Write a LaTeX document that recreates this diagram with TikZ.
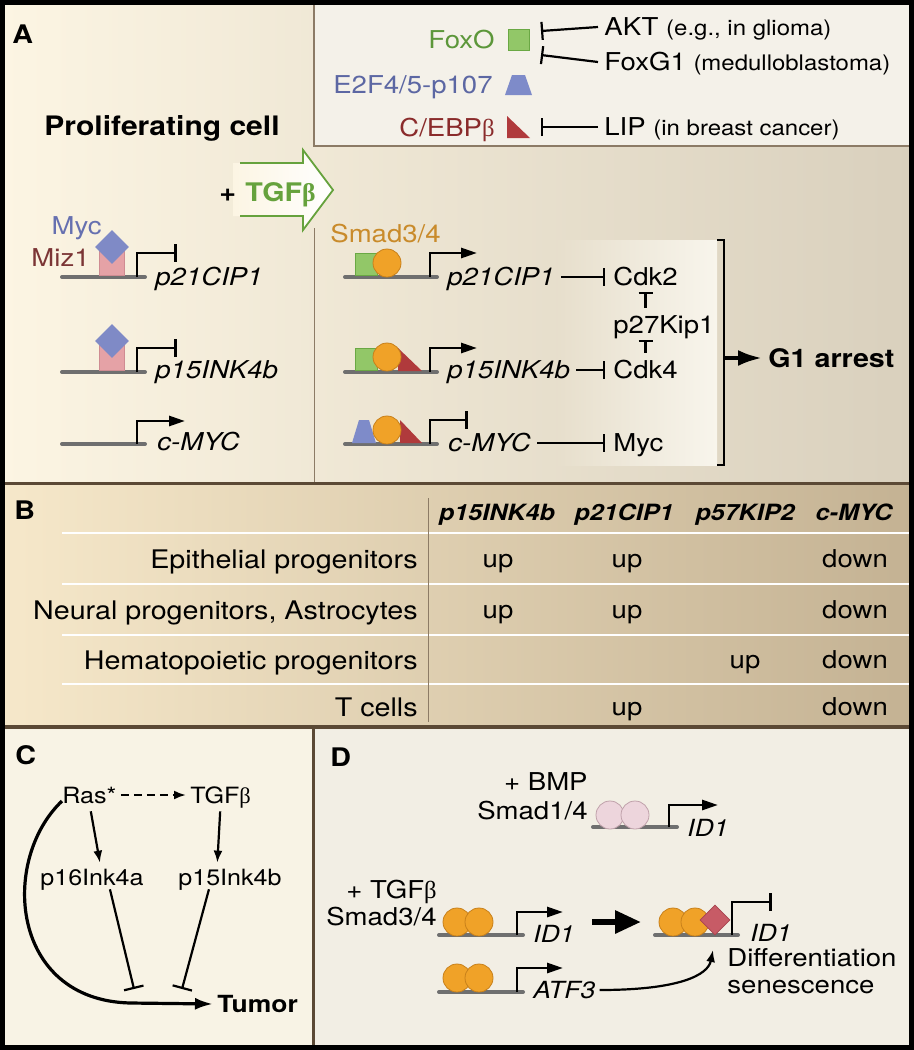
\documentclass[tikz,border=0pt]{standalone}
\usepackage{fontspec}
\setmainfont{TeX Gyre Heros}[FakeStretch=1.12]
\newfontfamily\betafont{Liberation Serif}
\newcommand{\gbeta}{{\betafont β}}
\newcommand{\parenfont}{\fontsize{10.7}{12.8}\selectfont}
\usetikzlibrary{arrows.meta,shapes.geometric,calc}

% colours
\definecolor{bgAl}{HTML}{FCF5E3}
\definecolor{bgAr}{HTML}{D9D0BD}
\definecolor{hilite}{HTML}{F8F5EC}
\definecolor{boxbg}{HTML}{F4F1E9}
\definecolor{boxline}{HTML}{8C7B66}
\definecolor{bgBl}{HTML}{F6E8CA}
\definecolor{bgBr}{HTML}{C4B293}
\definecolor{bgC}{HTML}{F8F3E5}
\definecolor{bgD}{HTML}{F2EEE4}
\definecolor{panelline}{HTML}{5B4935}
\definecolor{dnagray}{HTML}{6F6F6F}
\definecolor{foxL}{HTML}{92C768}
\definecolor{foxD}{HTML}{6AA844}
\definecolor{foxT}{HTML}{5C973A}
\definecolor{e2fL}{HTML}{7E8BC9}
\definecolor{e2fT}{HTML}{5C67A3}
\definecolor{cebpR}{HTML}{B03A3C}
\definecolor{cebpT}{HTML}{8A2B2B}
\definecolor{mycB}{HTML}{7F8AC6}
\definecolor{mycT}{HTML}{6670B0}
\definecolor{mizL}{HTML}{E5A2A6}
\definecolor{mizD}{HTML}{CF8C92}
\definecolor{mizT}{HTML}{7B3535}
\definecolor{smadO}{HTML}{F0A228}
\definecolor{smadD}{HTML}{C8801A}
\definecolor{smadT}{HTML}{C98B2B}
\definecolor{bmpL}{HTML}{EDD5DC}
\definecolor{bmpD}{HTML}{BFA1AA}
\definecolor{idR}{HTML}{C75B66}
\definecolor{idD}{HTML}{A8444F}
\definecolor{tgfgreen}{HTML}{66A23D}

\tikzset{
  txt/.style={inner sep=0pt, text height=8.8pt, text depth=0pt, font=\fontsize{12.3}{14.8}\selectfont},
  gname/.style={txt, font=\fontsize{12.3}{14.8}\selectfont\itshape},
  boldtxt/.style={txt, text height=9.2pt, font=\fontsize{12.8}{15.4}\selectfont\bfseries},
  panellab/.style={boldtxt, anchor=west},
  ctxt/.style={txt, text height=8pt, font=\fontsize{11.2}{13.4}\selectfont},
  hdr/.style={txt, text height=8pt, font=\fontsize{11.2}{13.4}\selectfont\bfseries\itshape},
  rowlab/.style={txt, text height=9.2pt, font=\fontsize{12.8}{15.4}\selectfont, anchor=east},
  protsq/.style={fill=foxL, draw=foxD, line width=0.4pt, minimum size=11pt, inner sep=0pt},
  smad/.style={circle, fill=smadO, draw=smadD, line width=0.4pt, minimum size=14pt, inner sep=0pt},
  dna/.style={draw=dnagray, line width=2pt, line cap=round},
  prom/.style={line width=1.4pt, -{Triangle[length=8pt,width=5pt]}},
  promoff/.style={line width=1.4pt, -{Bar[width=9pt]}},
  inhib/.style={line width=1.1pt, -{Bar[width=9pt]}},
  act/.style={line width=1.1pt, -{Latex[length=6pt,width=4.5pt]}},
  tbar/.style={line width=1.1pt, -{Bar[width=7pt]}, shorten >=3pt, shorten <=4pt},
}

\begin{document}
\begin{tikzpicture}[x=0.5pt,y=-0.5pt]
  \useasboundingbox (0,0) rectangle (914,1050);

  % Backgrounds of the panels
  \shade[left color=bgAl, right color=bgAr] (0,0) rectangle (914,483);
  \shade[left color=bgAr!61!bgAl, right color=hilite] (557,240) rectangle (717,465);
  \filldraw[fill=boxbg, draw=boxline, line width=0.6pt] (314,2) rectangle (911,146);
  \draw[boxline, line width=0.5pt] (314,228) -- (314,483);
  \shade[left color=bgBl, right color=bgBr] (0,483) rectangle (914,727);
  \foreach \yy in {533,584,635,684}
    \draw[white, line width=1.3pt] (62,\yy) -- (911,\yy);
  \draw[boxline, line width=0.5pt] (428,498) -- (428,722);
  \fill[bgC] (0,727) rectangle (313,1050);
  \fill[bgD] (313,727) rectangle (914,1050);
  \draw[panelline, line width=1.5pt] (0,483) -- (914,483);
  \draw[panelline, line width=1.8pt] (0,727) -- (914,727);
  \draw[panelline, line width=1.5pt] (313,727) -- (313,1050);

  % Panel A: factors and their inhibitors
  \node[panellab] (labA) at (12,34) {A};
  \node[txt, text=foxT, anchor=east] (foxo) at (495,40) {FoxO};
  \node[protsq, minimum size=10.5pt] (foxosq) at (519,40) {};
  \node[txt, text=e2fT, anchor=east] (e2f) at (493,85) {E2F4/5-p107};
  \fill[e2fL] (505,95) -- (532,95) -- (525,75) -- (512,75) -- cycle;
  \node[txt, text=cebpT, anchor=east] (cebp) at (495,128) {C/EBP\gbeta};
  \fill[cebpR] (507,116) -- (507,138) -- (530,138) -- cycle;
  \node[txt, anchor=west] (akt) at (604,27) {AKT \parenfont(e.g., in glioma)};
  \node[txt, anchor=west] (foxg) at (604,62) {FoxG1 \parenfont(medulloblastoma)};
  \node[txt, anchor=west] (lip) at (604,127) {LIP \parenfont(in breast cancer)};
  \coordinate (foxoU) at (541,31);
  \coordinate (foxoD) at (541,55);
  \coordinate (cebpI) at (541,127);
  % Connect the nodes
  \draw[inhib] ([xshift=-3pt]akt.west) -- (foxoU);
  \draw[inhib] ([xshift=-3pt]foxg.west) -- (foxoD);
  \draw[inhib] ([xshift=-3pt]lip.west) -- (cebpI);

  % Panel A: proliferating cell
  \node[boldtxt, font=\fontsize{13.4}{16}\selectfont\bfseries, anchor=west] (prolif) at (44,126) {Proliferating cell};
  \shade[left color=bgAl, right color=white] (233,163) -- (303,163) -- (303,150) -- (333,190) -- (303,230) -- (303,216) -- (233,216) -- cycle;
  \draw[tgfgreen, line width=0.9pt] (240,163) -- (303,163) -- (303,150) -- (333,190) -- (303,230) -- (303,216) -- (240,216);
  \node[boldtxt, anchor=west] (plusA) at (219,192) {+};
  \node[boldtxt, text=tgfgreen, anchor=west] (tgfA) at (245,192) {TGF\gbeta};

  \node[txt, text=mycT, anchor=east] (myclab) at (102,226) {Myc};
  \node[txt, text=mizT, anchor=east] (mizlab) at (90,258) {Miz1};
  % p21CIP1, repressed
  \draw[dna] (62,277) -- (145,277);
  \node[fill=mizL, draw=mizD, line width=0.4pt, minimum width=12.5pt, minimum height=14pt, inner sep=0pt, anchor=south] (miz1) at (112,276) {};
  \node[diamond, fill=mycB, minimum size=17pt, inner sep=0pt] (myc1) at (112,247) {};
  \draw[promoff] (137,277) |- (177,253);
  \node[gname, anchor=west] (p21a) at (155,277) {p21CIP1};
  % p15INK4b, repressed
  \draw[dna] (62,372) -- (145,372);
  \node[fill=mizL, draw=mizD, line width=0.4pt, minimum width=12.5pt, minimum height=14pt, inner sep=0pt, anchor=south] (miz2) at (112,371) {};
  \node[diamond, fill=mycB, minimum size=17pt, inner sep=0pt] (myc2) at (112,341) {};
  \draw[promoff] (137,372) |- (177,348);
  \node[gname, anchor=west] (p15a) at (155,370) {p15INK4b};
  % c-MYC, on
  \draw[dna] (62,444) -- (145,444);
  \draw[prom] (137,444) |- (185,421);
  \node[gname, anchor=west] (cmyca) at (157,442) {c-MYC};

  % Panel A: after TGFbeta
  \node[txt, text=smadT, anchor=west] (smadlab) at (330,234) {Smad3/4};
  \draw[dna] (345,277) -- (437,277);
  \node[protsq, anchor=south] (fox1) at (366,276) {};
  \node[smad] (sm1) at (387,263) {};
  \draw[prom] (430,277) |- (477,253);
  \node[gname, anchor=west] (p21b) at (447,277) {p21CIP1};

  \draw[dna] (345,372) -- (437,372);
  \node[protsq, anchor=south] (fox2) at (366,371) {};
  \fill[cebpR] (398,348) -- (398,371) -- (422,371) -- cycle;
  \node[smad] (sm2) at (387,357) {};
  \draw[prom] (430,372) |- (477,348);
  \node[gname, anchor=west] (p15b) at (447,370) {p15INK4b};

  \draw[dna] (345,444) -- (437,444);
  \fill[e2fL] (352,443) -- (376,443) -- (369,420) -- (359,420) -- cycle;
  \fill[cebpR] (400,420) -- (400,443) -- (422,443) -- cycle;
  \node[smad] (sm3) at (387,430) {};
  \draw[promoff] (430,444) |- (468,420);
  \node[gname, anchor=west] (cmycb) at (448,443) {c-MYC};

  \node[txt, anchor=west] (cdk2) at (613,277) {Cdk2};
  \node[txt, anchor=west] (p27) at (613,325) {p27Kip1};
  \node[txt, anchor=west] (cdk4) at (613,370) {Cdk4};
  \node[txt, anchor=west] (mycp) at (613,443) {Myc};
  \node[boldtxt, anchor=west] (g1) at (768,358) {G1 arrest};
  \coordinate (brT) at (717,240);
  \coordinate (brM) at (724,358);
  % Connect the nodes
  \draw[inhib] ([xshift=3pt]p21b.east) -- ([xshift=-4pt]cdk2.west);
  \draw[inhib] ([xshift=3pt]p15b.east) -- ([xshift=-4pt]cdk4.west);
  \draw[inhib] ([xshift=3pt]cmycb.east) -- ([xshift=-4pt]mycp.west);
  \draw[tbar] (cdk2.south |- p27.north) -- (cdk2.south);
  \draw[tbar] (cdk4.north) -- (cdk4.north |- p27.south);
  \draw[line width=1.2pt] (brT) -- ++(7,0) -- ++(0,225) -- ++(-7,0);
  \draw[line width=2pt, -{Latex[length=12pt,width=8pt]}, shorten >=3pt] (brM) -- (g1.west);

  % Panel B: table
  \node[panellab] (labB) at (14,510) {B};
  \node[hdr] (h1) at (497,512) {p15INK4b};
  \node[hdr] (h2) at (624,512) {p21CIP1};
  \node[hdr] (h3) at (745,512) {p57KIP2};
  \node[hdr] (h4) at (854,512) {c-MYC};
  \node[rowlab] (r1) at (418,559) {Epithelial progenitors};
  \node[rowlab] (r2) at (418,610) {Neural progenitors, Astrocytes};
  \node[rowlab] (r3) at (418,660) {Hematopoietic progenitors};
  \node[rowlab] (r4) at (418,707) {T cells};
  \node[txt] (r1c1) at (498,559) {up};
  \node[txt] (r1c2) at (627,559) {up};
  \node[txt] (r1c4) at (855,559) {down};
  \node[txt] (r2c1) at (498,610) {up};
  \node[txt] (r2c2) at (627,610) {up};
  \node[txt] (r2c4) at (855,610) {down};
  \node[txt] (r3c3) at (745,660) {up};
  \node[txt] (r3c4) at (855,660) {down};
  \node[txt] (r4c2) at (627,707) {up};
  \node[txt] (r4c4) at (855,707) {down};

  % Panel C
  \node[panellab] (labC) at (15,755) {C};
  \node[ctxt, anchor=west] (ras) at (62,795) {Ras*};
  \node[ctxt, anchor=west] (tgfC) at (190,795) {TGF\gbeta};
  \node[ctxt, anchor=west] (p16) at (40,877) {p16Ink4a};
  \node[ctxt, anchor=west] (p15C) at (178,877) {p15Ink4b};
  \node[ctxt, font=\fontsize{11.8}{14}\selectfont\bfseries, anchor=west] (tumor) at (217,1004) {Tumor};
  \coordinate (tumL) at (134,989);
  \coordinate (tumR) at (182,989);
  % Connect the nodes
  \draw[act, dash pattern=on 4pt off 2.5pt, shorten <=2pt, shorten >=2pt] (ras.east) -- (tgfC.west);
  \draw[act, shorten <=4pt, shorten >=3pt] (ras.south) -- ([xshift=4.5pt]p16.north);
  \draw[act, shorten <=4pt, shorten >=3pt] (tgfC.south) -- ([xshift=-6.5pt]p15C.north);
  \draw[inhib, -{Bar[width=10pt]}, shorten <=2pt] ([xshift=8.5pt]p16.south) -- (tumL);
  \draw[inhib, -{Bar[width=10pt]}, shorten <=2pt] ([xshift=-10pt]p15C.south) -- (tumR);
  \draw[line width=1.6pt, -{Latex[length=9pt,width=6pt]}] ([yshift=-3pt]ras.west) .. controls (0,860) and (10,1000) .. (130,1003) -- ([xshift=-2pt]tumor.west);

  % Panel D
  \node[panellab] (labD) at (330,757) {D};
  \node[txt, anchor=east] (bmp) at (588,782) {+ BMP};
  \node[txt, anchor=east] (smad14) at (588,811) {Smad1/4};
  \draw[dna] (593,827) -- (677,827);
  \node[smad, fill=bmpL, draw=bmpD] (b1) at (610,815) {};
  \node[smad, fill=bmpL, draw=bmpD] (b2) at (635,815) {};
  \draw[prom] (669,827) |- (718,805);
  \node[gname, font=\fontsize{11.8}{14}\selectfont\itshape, anchor=west] (id1a) at (687,828) {ID1};

  \node[txt, anchor=east] (tgfD) at (437,890) {+ TGF\gbeta};
  \node[txt, anchor=east] (smad34) at (437,917) {Smad3/4};
  \draw[dna] (439,935) -- (523,935);
  \node[smad] (s1) at (457,922) {};
  \node[smad] (s2) at (479,922) {};
  \draw[prom] (517,935) |- (563,912);
  \node[gname, font=\fontsize{11.8}{14}\selectfont\itshape, anchor=west] (id1b) at (533,934) {ID1};

  \draw[dna] (655,935) -- (738,935);
  \node[smad] (s3) at (673,922) {};
  \node[smad] (s4) at (695,922) {};
  \node[diamond, fill=idR, draw=idD, line width=0.4pt, minimum size=15pt, inner sep=0pt] (atfd) at (715,920) {};
  \draw[promoff] (732,935) |- (772,902);
  \node[gname, font=\fontsize{11.8}{14}\selectfont\itshape, anchor=west] (id1c) at (750,933) {ID1};
  \node[txt, anchor=west] (diff1) at (727,958) {Differentiation};
  \node[txt, anchor=west] (diff2) at (727,985) {senescence};

  \draw[dna] (439,992) -- (523,992);
  \node[smad] (s5) at (457,978) {};
  \node[smad] (s6) at (479,978) {};
  \draw[prom] (517,992) |- (563,968);
  \node[gname, font=\fontsize{11.8}{14}\selectfont\itshape, anchor=west] (atf3) at (533,990) {ATF3};
  \coordinate (fatS) at (592,922);
  \coordinate (fatE) at (641,922);
  \coordinate (diffIn) at (713,950);
  % Connect the nodes
  \draw[line width=3pt, -{Triangle[length=13pt,width=11pt]}] (fatS) -- (fatE);
  \draw[act] ([xshift=2pt]atf3.east) .. controls +(80,0) and +(-5,25) .. (diffIn);

  % Outer frame
  \draw[black, line width=2.5pt] (2.5,2.5) rectangle (911.5,1047.5);
\end{tikzpicture}
\end{document}
